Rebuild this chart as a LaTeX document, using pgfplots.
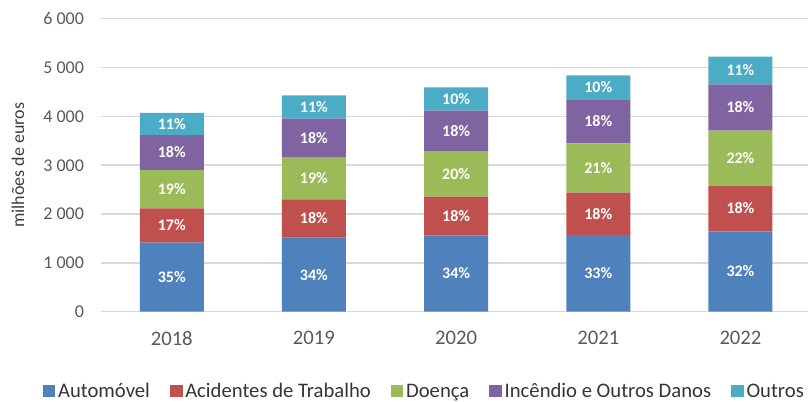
\documentclass[border=0pt]{standalone}
\usepackage{pgfplots}
\pgfplotsset{compat=1.18}
\usepackage{pgfplotstable}
\usepackage{fontspec}
\setmainfont{Carlito}
\definecolor{cA}{HTML}{4F81BD}
\definecolor{cB}{HTML}{C0504D}
\definecolor{cC}{HTML}{9BBB59}
\definecolor{cD}{HTML}{8064A2}
\definecolor{cE}{HTML}{4BACC6}
\definecolor{gridc}{HTML}{D9D9D9}
\definecolor{tickc}{HTML}{595959}
\def\splitlab#1/#2\relax{\def\mylab{#1}\def\myhalf{#2}}
\def\mylab{}\def\myhalf{0}
\pgfplotstableread{
x a b c d e pa pb pc pd pe
0 1413 704 785 717 451 35/706.5 17/352 19/392.5 18/358.5 11/225.5
1 1516 786 852 799 479 34/758 18/393 19/426 18/399.5 11/239.5
2 1565 790 936 825 479 34/782.5 18/395 20/468 18/412.5 10/239.5
3 1571 866 1012 901 491 33/785.5 18/433 21/506 18/450.5 10/245.5
4 1647 933 1127 950 565 32/823.5 18/466.5 22/563.5 18/475 11/282.5
}\data
\begin{document}
\begin{tikzpicture}
\path[use as bounding box] (-75.5pt,-67.7pt) rectangle (530.5pt,233.8pt);
\begin{axis}[
  at={(0,0)}, anchor=south west,
  scale only axis, width=530.5pt, height=219.75pt,
  ybar stacked, bar width=48pt,
  xmin=-0.5, xmax=4.475, ymin=0, ymax=6000,
  xtick={0,1,2,3,4}, xticklabels={2018,2019,2020,2021,2022},
  ytick={0,1000,2000,3000,4000,5000,6000},
  ymajorgrids, grid style={draw=gridc, line width=1.1pt},
  axis line style={draw=none}, major tick length=0pt,
  yticklabel style={font=\fontsize{13.5}{16}\selectfont, text=tickc, xshift=-9pt},
  xticklabel style={font=\fontsize{15.5}{18}\selectfont, text=tickc, yshift=-11pt},
  /pgf/number format/assume math mode=true,
  /pgf/number format/1000 sep={\ },
  ylabel={milhões de euros},
  ylabel style={at={(axis description cs:-0.117,0.5)}, anchor=center, font=\fontsize{13.5}{16}\selectfont, text=tickc!70!black},
  legend columns=5,
  legend style={draw=none, at={(0.458,-0.272)}, anchor=center, font=\fontsize{15.5}{18}\selectfont, text=tickc!60!black,
    /tikz/every even column/.append style={column sep=13pt}, inner sep=0pt},
  legend image code/.code={\path[#1] (0pt,-4pt) rectangle (9.5pt,5pt);},
  point meta=explicit symbolic,
  nodes near coords={\mylab\%},
  every node near coord/.append style={/utils/exec={\expandafter\splitlab\pgfplotspointmeta\relax}, anchor=center, text=white, font=\fontsize{12}{14}\selectfont\bfseries},
]
\addplot[fill=cA, draw=none] table[x=x, y=a, meta=pa] {\data};
\addlegendentry{Automóvel}
\addplot[fill=cB, draw=none] table[x=x, y=b, meta=pb] {\data};
\addlegendentry{Acidentes de Trabalho}
\addplot[fill=cC, draw=none] table[x=x, y=c, meta=pc] {\data};
\addlegendentry{Doença}
\addplot[fill=cD, draw=none] table[x=x, y=d, meta=pd] {\data};
\addlegendentry{Incêndio e Outros Danos}
\addplot[fill=cE, draw=none] table[x=x, y=e, meta=pe] {\data};
\addlegendentry{Outros}
\end{axis}
\end{tikzpicture}
\end{document}
